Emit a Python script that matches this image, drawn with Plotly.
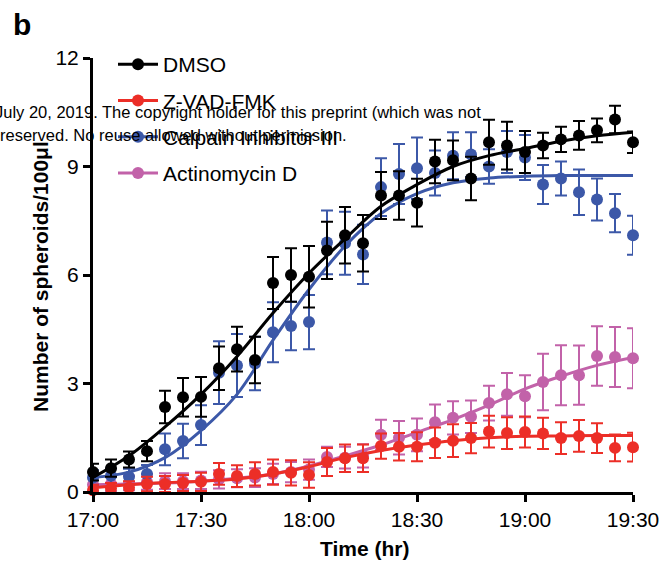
import plotly.graph_objects as go

# time in minutes after 17:00
times = [i * 5 for i in range(31)]
tick_vals = [0, 30, 60, 90, 120, 150]
tick_text = ["17:00", "17:30", "18:00", "18:30", "19:00", "19:30"]
y_ticks = [0, 3, 6, 9, 12]

dmso = [0.55, 0.66, 0.9, 1.13, 2.35, 2.62, 2.63, 3.42, 3.95, 3.65, 5.78, 6.0, 5.95, 6.68, 7.1,
        6.88, 8.2, 8.2, 8.0, 9.14, 9.17, 8.67, 9.67, 9.58, 9.4, 9.58, 9.75, 9.86, 10.0, 10.3, 9.67]
dmso_err = [0.23, 0.24, 0.22, 0.28, 0.45, 0.53, 0.55, 0.6, 0.62, 0.64, 0.72, 0.74, 0.85, 0.79, 0.78,
            0.78, 0.65, 0.67, 0.66, 0.6, 0.55, 0.6, 0.62, 0.66, 0.58, 0.35, 0.35, 0.4, 0.33, 0.38, 0.3]

zvad = [0.05, 0.1, 0.12, 0.22, 0.22, 0.25, 0.28, 0.5, 0.44, 0.5, 0.55, 0.53, 0.47, 0.83, 0.93,
        0.93, 1.27, 1.25, 1.25, 1.36, 1.42, 1.49, 1.67, 1.63, 1.66, 1.62, 1.49, 1.55, 1.49, 1.22, 1.24]
zvad_err = [0.15, 0.15, 0.18, 0.2, 0.22, 0.22, 0.25, 0.3, 0.3, 0.32, 0.35, 0.35, 0.35, 0.39, 0.38,
            0.38, 0.35, 0.38, 0.4, 0.42, 0.45, 0.42, 0.44, 0.44, 0.43, 0.43, 0.44, 0.44, 0.41, 0.37, 0.4]

calpain = [0.4, 0.45, 0.42, 0.5, 1.18, 1.41, 1.85, 3.3, 3.5, 3.55, 4.42, 4.59, 4.7, 6.9, 6.88,
           6.57, 8.43, 8.79, 8.95, 8.82, 9.3, 9.33, 9.0, 9.4, 9.25, 8.5, 8.67, 8.29, 8.09, 7.71, 7.1]
calpain_err = [0.2, 0.2, 0.22, 0.25, 0.44, 0.48, 0.55, 0.87, 0.87, 0.74, 0.83, 0.67, 0.75, 0.88, 0.87,
               0.82, 0.8, 0.83, 0.85, 0.62, 0.65, 0.62, 0.48, 0.58, 0.62, 0.54, 0.47, 0.63, 0.58, 0.53, 0.54]

actino = [0.2, 0.22, 0.25, 0.28, 0.3, 0.3, 0.32, 0.35, 0.38, 0.4, 0.5, 0.55, 0.62, 0.97, 0.95,
          1.0, 1.58, 1.5, 1.58, 1.93, 2.05, 2.08, 2.46, 2.7, 2.65, 3.04, 3.23, 3.23, 3.76, 3.73, 3.7]
actino_err = [0.2, 0.2, 0.2, 0.22, 0.22, 0.22, 0.24, 0.25, 0.25, 0.26, 0.28, 0.28, 0.28, 0.28, 0.3,
              0.32, 0.42, 0.46, 0.45, 0.49, 0.46, 0.45, 0.48, 0.59, 0.58, 0.78, 0.83, 0.82, 0.82, 0.83, 0.83]

# fitted curves at 10-minute steps
fit_times = [i * 10 for i in range(16)]
dmso_fit = [0.4, 1.0, 1.8, 2.7, 3.75, 4.95, 6.05, 7.0, 7.9, 8.5, 9.0, 9.3, 9.5, 9.7, 9.85, 9.95]
zvad_fit = [0.12, 0.2, 0.26, 0.3, 0.36, 0.5, 0.7, 0.95, 1.15, 1.3, 1.42, 1.5, 1.54, 1.55, 1.56, 1.56]
calpain_fit = [0.4, 0.55, 0.95, 1.7, 2.7, 4.2, 5.6, 6.8, 7.7, 8.25, 8.55, 8.68, 8.73, 8.75, 8.75, 8.75]
actino_fit = [0.2, 0.22, 0.25, 0.3, 0.38, 0.5, 0.72, 1.0, 1.3, 1.65, 2.0, 2.4, 2.85, 3.2, 3.5, 3.72]

series = [
    ("Actinomycin D", actino, actino_err, actino_fit, "#C262A9"),
    ("Calpain Inhibitor III", calpain, calpain_err, calpain_fit, "#3C58A8"),
    ("Z-VAD-FMK", zvad, zvad_err, zvad_fit, "#EC2E27"),
    ("DMSO", dmso, dmso_err, dmso_fit, "#000000"),
]
legend_order = ["DMSO", "Z-VAD-FMK", "Calpain Inhibitor III", "Actinomycin D"]

FONT = "Arial, Liberation Sans, Helvetica, sans-serif"

# plot area in pixels
L, R, T, B = 93, 633, 58, 492
W, H = R - L, B - T


def px(xp):
    return (xp - L) / W


def py(yp):
    return (B - yp) / H


fig = go.Figure()
for name, vals, errs, fit, col in series:
    fig.add_trace(go.Scatter(
        x=fit_times, y=fit, mode="lines", line=dict(color=col, width=3, shape="spline"),
        showlegend=False, hoverinfo="skip", cliponaxis=False))
    fig.add_trace(go.Scatter(
        x=times, y=vals, mode="markers",
        marker=dict(color=col, size=12, symbol="circle"),
        error_y=dict(type="data", array=errs, color=col, thickness=2, width=6),
        showlegend=False, cliponaxis=False))

colors = {s[0]: s[4] for s in series}
for i, name in enumerate(legend_order):
    fig.add_trace(go.Scatter(
        x=[None], y=[None], mode="lines+markers", name=name,
        line=dict(color=colors[name], width=3),
        marker=dict(color=colors[name], size=12),
        legendgroup=name, legendrank=i + 1))

fig.update_layout(
    width=663, height=562,
    margin=dict(l=L, r=663 - R, t=T, b=562 - B, autoexpand=False),
    paper_bgcolor="white", plot_bgcolor="white",
    font=dict(family=FONT, size=21, color="black"),
    showlegend=True,
    legend=dict(x=px(113), y=py(44), xanchor="left", yanchor="top",
                font=dict(size=21, family=FONT), bgcolor="rgba(0,0,0,0)",
                tracegroupgap=6, itemwidth=40),
    xaxis=dict(range=[0, 150], tickvals=tick_vals, ticktext=tick_text,
               showline=True, linewidth=3, linecolor="black", mirror=False,
               ticks="outside", ticklen=7, tickwidth=3, tickcolor="black",
               showgrid=False, zeroline=False, tickfont=dict(size=21),
               automargin=False),
    yaxis=dict(range=[0, 12], tickvals=y_ticks,
               showline=True, linewidth=3, linecolor="black",
               ticks="outside", ticklen=7, tickwidth=3, tickcolor="black",
               showgrid=False, zeroline=False, tickfont=dict(size=21),
               automargin=False),
)

# axis titles
fig.add_annotation(text="<b>Time (hr)</b>", xref="paper", yref="paper",
                   x=px(364), y=py(548), xanchor="center", yanchor="middle",
                   showarrow=False, font=dict(size=21, family=FONT))
fig.add_annotation(text="<b>Number of spheroids/100μl</b>", xref="paper", yref="paper",
                   x=px(40), y=py(277), xanchor="center", yanchor="middle", textangle=-90,
                   showarrow=False, font=dict(size=21, family=FONT))

fig.add_annotation(text="<b>b</b>", xref="paper", yref="paper",
                   x=px(11), y=py(25), xanchor="left", yanchor="middle",
                   showarrow=False, font=dict(size=30, family=FONT))

WM_FONT = "Arial, Liberation Sans, sans-serif"
fig.add_annotation(text="July 20, 2019. The copyright holder for this preprint (which was not",
                   xref="paper", yref="paper", x=px(-7), y=py(112),
                   xanchor="left", yanchor="middle", showarrow=False,
                   font=dict(size=16.5, family=WM_FONT))
fig.add_annotation(text="reserved. No reuse allowed without permission.",
                   xref="paper", yref="paper", x=px(-2), y=py(135),
                   xanchor="left", yanchor="middle", showarrow=False,
                   font=dict(size=16.5, family=WM_FONT))

fig.write_html("out.html", config={"displayModeBar": False},
               post_script="document.body.style.margin='0px';document.body.style.padding='0px';")
